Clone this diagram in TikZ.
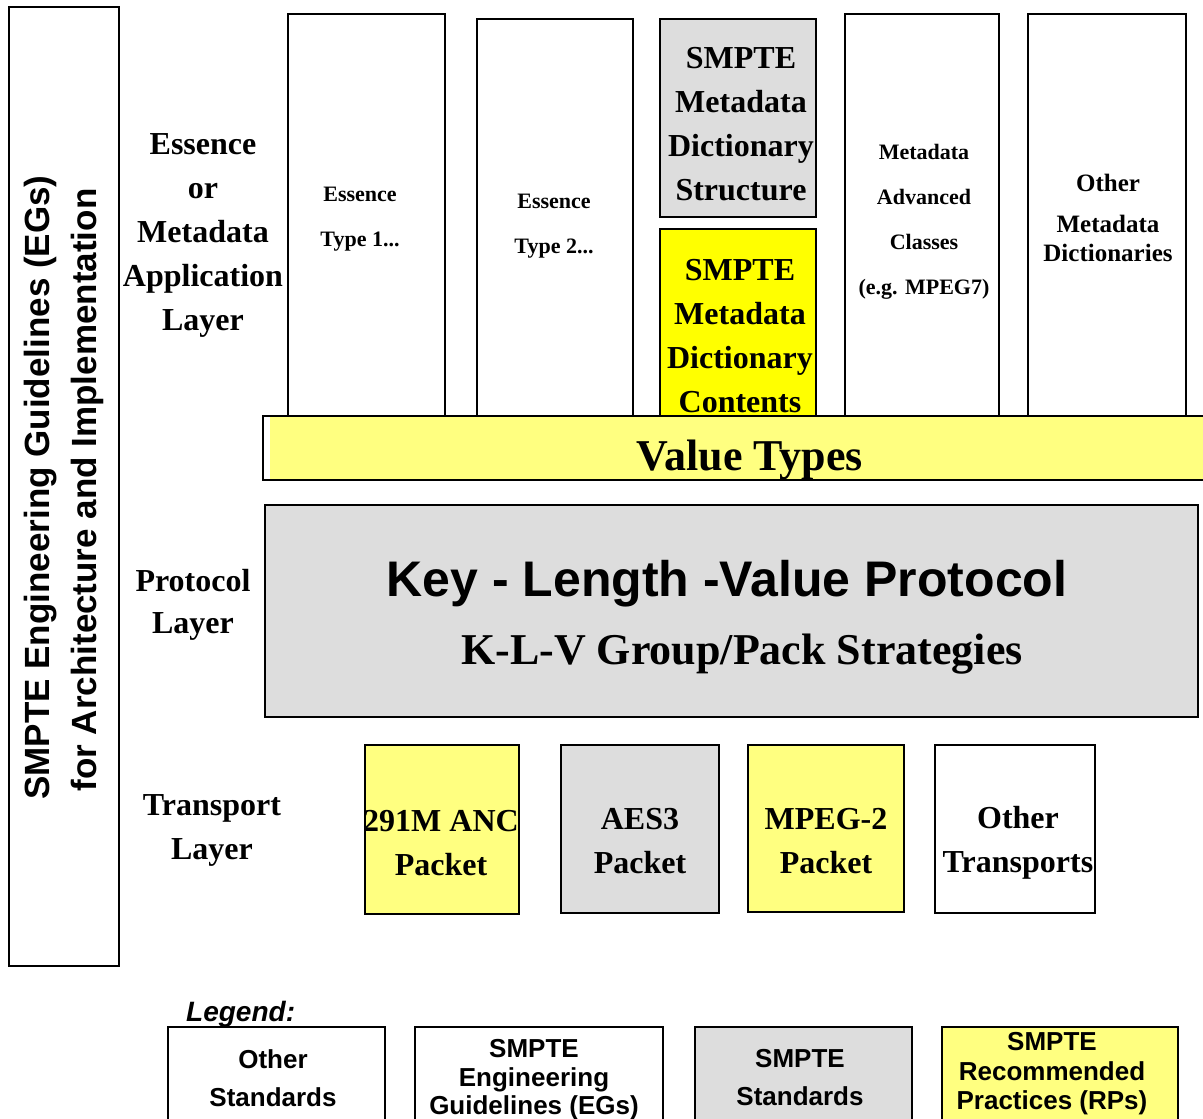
\documentclass[tikz,border=0pt]{standalone}
\usepackage{fontspec}
\setmainfont{Liberation Serif}
\setsansfont{Liberation Sans}
\definecolor{gbox}{HTML}{DDDDDD}
\definecolor{lyel}{HTML}{FFFF80}
\definecolor{yel}{HTML}{FFFF00}
\begin{document}
\begin{tikzpicture}[x=1pt,y=-1pt,
  box/.style={draw, line width=1.6pt, rectangle, inner sep=0pt, outer sep=0pt, anchor=north west},
  big/.style={font=\fontsize{32}{44}\selectfont\bfseries, align=center, inner sep=0pt},
  small/.style={font=\fontsize{22}{45}\selectfont\bfseries, align=center, inner sep=0pt},
  leg/.style={font=\sffamily\fontsize{26}{38}\selectfont\bfseries, align=center, inner sep=0pt},
  vert/.style={font=\sffamily\fontsize{35}{40}\selectfont\bfseries, rotate=90, anchor=base, inner sep=0pt}]
\useasboundingbox (0,0) rectangle (1203,1119);
\clip (0,0) rectangle (1203,1119);
% left vertical box
\node[box, minimum width=110pt, minimum height=959pt] (eg) at (9,7) {};
\node[vert] (eg1) at (49,487.5) {SMPTE Engineering Guidelines (EGs)};
\node[vert] (eg2) at (96,490) {for Architecture and Implementation};
% application layer columns
\node[box, minimum width=157pt, minimum height=402pt] (et1) at (288,14) {};
\node[box, minimum width=156pt, minimum height=397pt] (et2) at (477,19) {};
\node[box, fill=gbox, minimum width=156pt, minimum height=198pt] (mds) at (660,19) {};
\node[box, fill=yel, minimum width=156pt, minimum height=187pt] (mdc) at (660,229) {};
\node[box, minimum width=154pt, minimum height=402pt] (mac) at (845,14) {};
\node[box, minimum width=158pt, minimum height=402pt] (omd) at (1028,14) {};
\node[small] (et1t) at (360,219) {Essence\\Type 1...};
\node[small] (et2t) at (554,226) {Essence\\Type 2...};
\node[big] (mdst) at (741,124) {SMPTE\\Metadata\\Dictionary\\Structure};
\node[big] (mdct) at (740,336) {SMPTE\\Metadata\\Dictionary\\Contents};
\node[small] (mact) at (924,222) {Metadata\\Advanced\\Classes\\(e.g. MPEG7)};
\node[font=\fontsize{25}{29}\selectfont\bfseries, align=center, inner sep=0pt] (omdt) at (1108,218) {Other\\[12pt]Metadata\\Dictionaries};
\node[big] (appl) at (203,235) {Essence\\or\\Metadata\\Application\\Layer};
% value types
\node[box, fill=lyel, minimum width=952pt, minimum height=64pt] (vt) at (263,416) {};
\fill[white] (264,417) rectangle (270,479);
\node[font=\fontsize{44}{50}\selectfont\bfseries, inner sep=0pt] (vtt) at (750,460) {Value Types};
% protocol layer
\node[box, fill=gbox, minimum width=933pt, minimum height=212pt] (klv) at (265,505) {};
\node[font=\sffamily\fontsize{50}{55}\selectfont\bfseries, inner sep=0pt] (klv1) at (727,584) {Key - Length -Value Protocol};
\node[font=\fontsize{44}{50}\selectfont\bfseries, inner sep=0pt] (klv2) at (742,654) {K-L-V Group/Pack Strategies};
\node[big, font=\fontsize{32}{42}\selectfont\bfseries] (prot) at (193,605) {Protocol\\Layer};
% transport layer
\node[box, fill=lyel, minimum width=154pt, minimum height=169pt] (anc) at (365,745) {};
\node[box, fill=gbox, minimum width=158pt, minimum height=168pt] (aes) at (561,745) {};
\node[box, fill=lyel, minimum width=156pt, minimum height=167pt] (mpg) at (748,745) {};
\node[box, minimum width=160pt, minimum height=168pt] (otr) at (935,745) {};
\node[big] (anct) at (441,843) {291M ANC\\Packet};
\node[big] (aest) at (640,841) {AES3\\Packet};
\node[big] (mpgt) at (826,841) {MPEG-2\\Packet};
\node[big] (otrt) at (1018,843) {Other\\Transports};
\node[big] (trl) at (212,830) {Transport\\Layer};
% legend
\node[font=\sffamily\itshape\bfseries\fontsize{28}{32}\selectfont, inner sep=0pt, anchor=base west] (legt) at (186,1021) {Legend:};
\node[box, minimum width=217pt, minimum height=110pt] (lg1) at (168,1027) {};
\node[box, minimum width=248pt, minimum height=110pt] (lg2) at (415,1027) {};
\node[box, fill=gbox, minimum width=217pt, minimum height=110pt] (lg3) at (695,1027) {};
\node[box, fill=lyel, minimum width=236pt, minimum height=110pt] (lg4) at (942,1027) {};
\node[leg] (lg1t) at (273,1078) {Other\\Standards};
\node[leg, font=\sffamily\fontsize{26}{28.5}\selectfont\bfseries] (lg2t) at (534,1080) {SMPTE\\Engineering\\Guidelines (EGs)};
\node[leg] (lg3t) at (800,1078) {SMPTE\\Standards};
\node[leg, font=\sffamily\fontsize{26}{29.5}\selectfont\bfseries] (lg4t) at (1052,1074) {SMPTE\\Recommended\\Practices (RPs)};
\end{tikzpicture}
\end{document}
